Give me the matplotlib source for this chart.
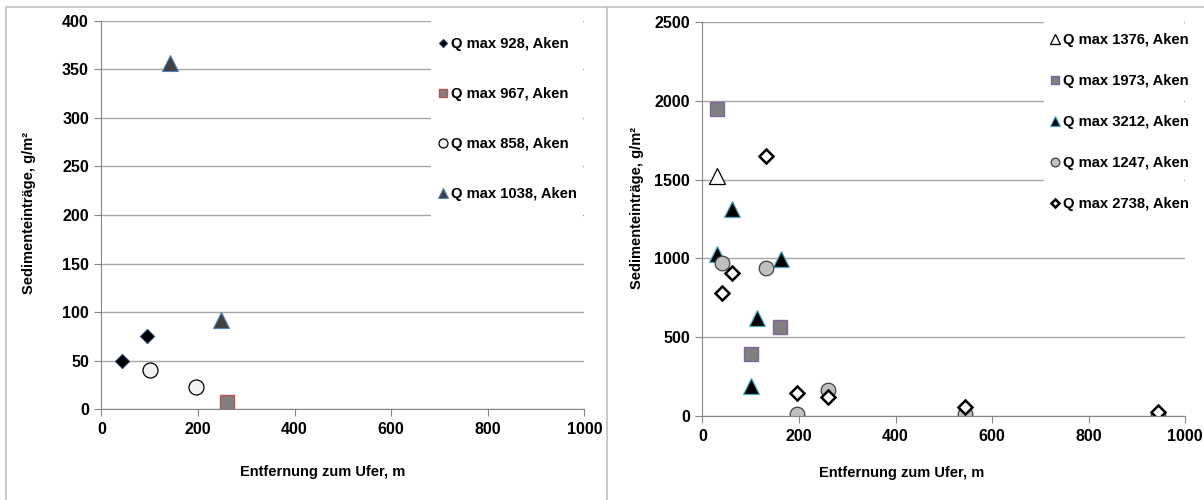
import matplotlib
matplotlib.use('Agg')
import matplotlib.pyplot as plt
from matplotlib.patches import Rectangle
from matplotlib.lines import Line2D

plt.rcParams['font.family'] = ['Liberation Sans', 'DejaVu Sans']
plt.rcParams['font.weight'] = 'bold'
plt.rcParams['font.size'] = 10.5

# left chart (Aken, smaller floods)
q928_x = [42, 95]
q928_y = [50, 75]
q967_x = [260]
q967_y = [7]
q858_x = [100, 196]
q858_y = [40, 23]
q1038_x = [141, 247]
q1038_y = [356, 92]

# right chart (Aken, larger floods)
q1376_x = [30]
q1376_y = [1520]
q1973_x = [30, 101, 161]
q1973_y = [1950, 395, 565]
q3212_x = [30, 62, 100, 113, 162]
q3212_y = [1030, 1315, 195, 620, 995]
q1247_x = [41, 131, 196, 261, 544, 944]
q1247_y = [972, 940, 13, 165, 13, 3]
q2738_x = [41, 62, 131, 196, 261, 544, 944]
q2738_y = [780, 907, 1650, 145, 120, 57, 25]

X_LABEL = 'Entfernung zum Ufer, m'
Y_LABEL = 'Sedimenteinträge, g/m²'

W, H = 1204, 500
fig = plt.figure(figsize=(W / 100, H / 100), dpi=100)


def px(x0, y0, x1, y1):
    # pixel box -> figure fraction rect
    return [x0 / W, 1 - y1 / H, (x1 - x0) / W, (y1 - y0) / H]


def style_axes(ax, ymax, ystep):
    ax.set_xlim(0, 1000)
    ax.set_ylim(0, ymax)
    ax.set_xticks(range(0, 1001, 200))
    ax.set_yticks(range(0, ymax + 1, ystep))
    ax.grid(axis='y', color='#a6a6a6', linewidth=1.0)
    ax.set_axisbelow(True)
    for s in ['top', 'right']:
        ax.spines[s].set_visible(False)
    for s in ['left', 'bottom']:
        ax.spines[s].set_color('#868686')
    ax.tick_params(direction='out', length=5, color='#868686',
                   labelsize=11.5, pad=4)
    for lab in ax.get_xticklabels() + ax.get_yticklabels():
        lab.set_fontweight('bold')


# outer frames of both panels
frame = dict(transform=fig.transFigure, color='#c0c0c0', linewidth=1.2)
fig.lines.append(Line2D([6 / W, 6 / W, 607 / W], [0, 1 - 7 / H, 1 - 7 / H], **frame))
fig.lines.append(Line2D([607 / W, 607 / W, 1], [0, 1 - 7 / H, 1 - 7 / H], **frame))

# ---- left chart
ax1 = fig.add_axes(px(101.4, 20.7, 584.4, 409.3))
style_axes(ax1, 400, 50)
ax1.plot(q928_x, q928_y, 'D', ms=7.0, mfc='black', mec='#1f3864', mew=0.8,
         label='Q max 928, Aken')
ax1.plot(q967_x, q967_y, 's', ms=10.5, mfc='#7f7f7f', mec='#c0504d', mew=1.0,
         label='Q max 967, Aken')
ax1.plot(q858_x, q858_y, 'o', ms=10.8, mfc='#f2f2f2', mec='black', mew=0.9,
         label='Q max 858, Aken')
ax1.plot(q1038_x, q1038_y, '^', ms=11, mfc='#404040', mec='#4f81bd', mew=0.8,
         label='Q max 1038, Aken')
ax1.add_patch(Rectangle((0.682, 0.449), 0.315, 0.57, transform=ax1.transAxes,
                        facecolor='white', edgecolor='none', zorder=1.5, clip_on=False))
ax1.legend(loc='upper left', bbox_to_anchor=(0.682, 0.977), frameon=False,
           borderpad=0, handlelength=0.6, handletextpad=0.3, labelspacing=2.45,
           markerscale=0.6, prop={'weight': 'bold', 'size': 10.6})
fig.text(323 / W, 1 - 472 / H, X_LABEL, ha='center', va='center', fontsize=10.5)
fig.text(29 / W, 1 - 213 / H, Y_LABEL, ha='center', va='center', rotation=90,
         fontsize=10.5)

# ---- right chart
ax2 = fig.add_axes(px(702.4, 21.7, 1185.3, 416.3))
style_axes(ax2, 2500, 500)
ax2.plot(q1376_x, q1376_y, '^', ms=11, mfc='white', mec='black', mew=0.9,
         label='Q max 1376, Aken')
ax2.plot(q1973_x, q1973_y, 's', ms=10.5, mfc='#7f7f7f', mec='#8064a2', mew=1.0,
         label='Q max 1973, Aken')
ax2.plot(q3212_x, q3212_y, '^', ms=11, mfc='black', mec='#4bacc6', mew=0.9,
         label='Q max 3212, Aken')
ax2.plot(q1247_x, q1247_y, 'o', ms=10.5, mfc='#bfbfbf', mec='#404040', mew=0.9,
         label='Q max 1247, Aken')
ax2.plot(q2738_x, q2738_y, 'D', ms=7.0, mfc='white', mec='black', mew=1.8,
         label='Q max 2738, Aken')
ax2.add_patch(Rectangle((0.707, 0.497), 0.29, 0.52, transform=ax2.transAxes,
                        facecolor='white', edgecolor='none', zorder=1.5, clip_on=False))
ax2.legend(loc='upper left', bbox_to_anchor=(0.705, 0.99), frameon=False,
           borderpad=0, handlelength=0.6, handletextpad=0.3, labelspacing=1.83,
           markerscale=0.6, prop={'weight': 'bold', 'size': 10.6})
fig.text(902 / W, 1 - 473 / H, X_LABEL, ha='center', va='center', fontsize=10.5)
fig.text(636.5 / W, 1 - 208 / H, Y_LABEL, ha='center', va='center', rotation=90,
         fontsize=10.5)

fig.savefig('out.png', dpi=100)
